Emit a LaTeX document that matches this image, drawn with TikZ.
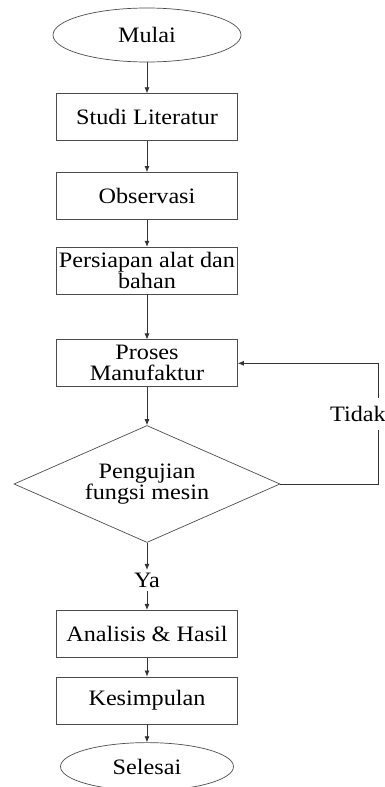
\documentclass[tikz,border=0pt]{standalone}
\usepackage{fontspec}
\setmainfont[FakeStretch=1.1]{Liberation Serif}
\usetikzlibrary{arrows, arrows.meta, shapes.geometric}
\usetikzlibrary{positioning}
\tikzstyle{terminal_node} = [
    ellipse, 
    draw=black!70, 
    line width=0.7pt, 
    align=center, 
    inner sep=2pt
]
\tikzstyle{process_node} = [
    rectangle, 
    draw=black!70, 
    line width=0.7pt, 
    align=center, 
    inner sep=2pt, % two lines still fit
    minimum width=181pt, 
    minimum height=47pt
]
\tikzstyle{decision_node} = [
    diamond, 
    draw=black!70, 
    line width=0.7pt, 
    align=center, 
    aspect=2.27, 
    inner sep=0pt, 
    minimum width=266pt, 
    minimum height=117pt
]
\tikzstyle{plain_label} = [
    align=center, 
    inner sep=3pt
]
\tikzstyle{flow_line} = [
    -{Latex[length=6pt, width=5pt]}, 
    draw=black!80, 
    line width=0.7pt
]

\begin{document}
\begin{tikzpicture}[
    font=\fontsize{22}{21}\selectfont
]
\useasboundingbox (0,0) rectangle (385pt,-787pt);

\node [terminal_node, minimum width=188pt, minimum height=54pt] (mulai) at (147pt,-35pt) {Mulai};
\node [process_node, below=31pt of mulai] (studi) {Studi Literatur};
\node [process_node, below=31pt of studi] (observasi) {Observasi};
\node [process_node, below=27pt of observasi] (persiapan) {Persiapan alat dan\\bahan};
\node [process_node, below=45pt of persiapan] (proses) {Proses\\Manufaktur};
\node [decision_node, below=38pt of proses] (uji) {Pengujian\\fungsi mesin};
\node [plain_label, below=27pt of uji] (ya) {Ya};
\node [process_node, below=19pt of ya] (analisis) {Analisis \& Hasil};
\node [process_node, below=19pt of analisis] (kesimpulan) {Kesimpulan};
\node [terminal_node, minimum width=173pt, minimum height=48pt, below=18pt of kesimpulan] (selesai) {Selesai};

\coordinate (belok) at ([xshift=140pt]proses.east);

\draw [flow_line] (mulai) -- (studi);
\draw [flow_line] (studi) -- (observasi);
\draw [flow_line] (observasi) -- (persiapan);
\draw [flow_line] (persiapan) -- (proses);
\draw [flow_line] (proses) -- (uji);
\draw [flow_line] (uji) -- (ya);
\draw [flow_line] (ya) -- (analisis);
\draw [flow_line] (analisis) -- (kesimpulan);
\draw [flow_line] (kesimpulan) -- (selesai);
\draw [flow_line] (uji.east) -| (belok) -- (proses.east);

% label sits on the return line
\node [plain_label, fill=white, inner ysep=8pt] (tidak) at (358pt,-414pt) {Tidak};
\end{tikzpicture}
\end{document}
